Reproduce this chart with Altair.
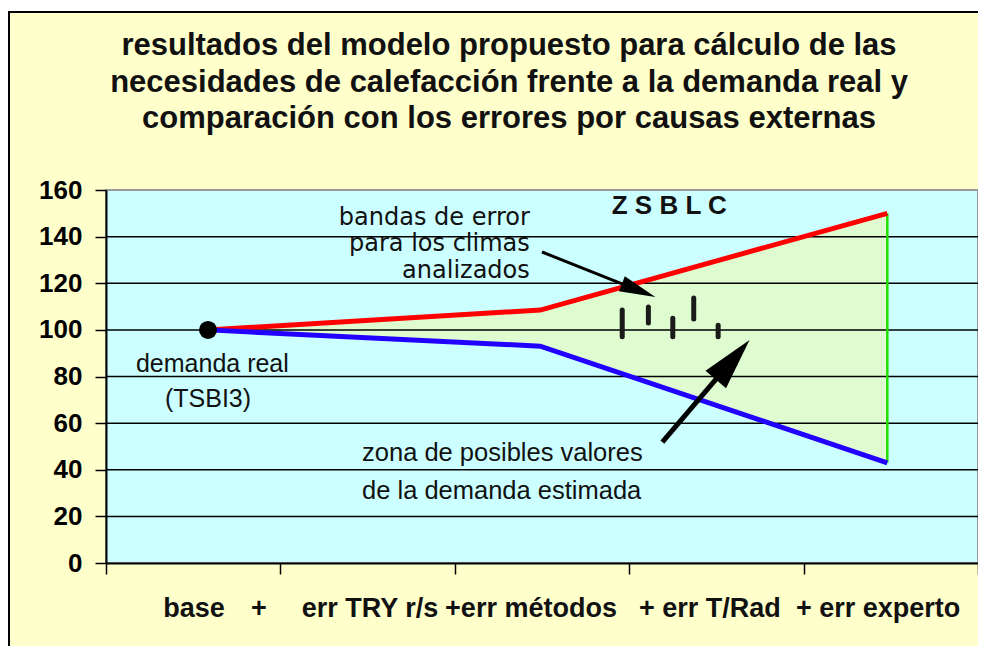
import math
import altair as alt
import pandas as pd

# ---------------- data ----------------
title_lines = [
    "resultados del modelo propuesto para cálculo de las",
    "necesidades de calefacción frente a la demanda real y",
    "comparación con los errores por causas externas",
]

y_ticks = [0, 20, 40, 60, 80, 100, 120, 140, 160]
x_ticks = [0, 1, 2, 3, 4, 5]

series_x = [0.585, 2.49, 4.48]
upper = [100, 108.5, 150]
lower = [100, 93, 43]

base_x = [0.585]
base_y = [100]

clim_names = ["Z", "S", "B", "L", "C"]
clim_x = [2.96, 3.11, 3.25, 3.37, 3.51]
clim_lo = [97, 103, 97, 104.7, 97]
clim_hi = [108.5, 109.8, 105, 113.7, 102]

x_labels = ["base", "+", "err TRY r/s", "+err métodos", "+ err T/Rad", "+ err experto"]
x_label_pos = [0.505, 0.877, 1.514, 2.437, 3.463, 4.427]

ann_text = ["bandas de error", "para los climas", "analizados", "Z S B L C",
            "zona de posibles valores", "de la demanda estimada",
            "demanda real", "(TSBI3)"]
ann_x = [2.43, 2.43, 2.43, 3.23, 1.468, 1.468, 0.61, 0.585]
ann_y = [148.0, 136.9, 125.3, 153.2, 47.0, 30.9, 85.4, 70.4]
ann_align = ["right", "right", "right", "center", "left", "left", "center", "center"]
ann_size = [24, 24, 24, 26, 25.5, 25.5, 25, 25]
ann_weight = ["normal", "normal", "normal", "bold", "normal", "normal", "normal", "normal"]
ann_font = ["dejavu", "dejavu", "dejavu", "lib", "lib", "lib", "lib", "lib"]

arrow_x0 = [2.50, 3.19]
arrow_y0 = [133.4, 51.9]
arrow_x1 = [3.15, 3.69]
arrow_y1 = [114.1, 95.7]
arrow_head_len = [36, 52]
arrow_head_half = [8, 13.5]
arrow_width = [3, 5]

# ---------------- layout ----------------
W, H = 872, 373
X_MAX, Y_MAX = 5, 160
FONT = "Liberation Sans, Arial, Helvetica, sans-serif"
FONTS = {"lib": FONT, "dejavu": "DejaVu Sans, Verdana, sans-serif"}
px_x = W / X_MAX
px_y = H / Y_MAX

xs = alt.Scale(domain=[0, X_MAX], nice=False, zero=False)
ys = alt.Scale(domain=[0, Y_MAX], nice=False, zero=False)

x_axis = alt.Axis(values=x_ticks, labels=False, grid=False, tickSize=11, tickColor="black",
                  tickWidth=1.5, domainColor="black", domainWidth=2, title=None, zindex=1)
y_axis = alt.Axis(values=y_ticks, grid=False, tickSize=11, tickColor="black", tickWidth=1.5,
                  domainColor="black", domainWidth=2, labelFont=FONT, labelFontSize=26,
                  labelFontWeight="bold", labelColor="black", labelPadding=13, title=None,
                  zindex=1)


def X(field):
    return alt.X(field, type="quantitative", scale=xs, axis=x_axis)


def Y(field):
    return alt.Y(field, type="quantitative", scale=ys, axis=y_axis)


one = pd.DataFrame({"a": [0]})

outer = alt.Chart(one).mark_rect(fill="#FFFFCC", stroke="black", strokeWidth=2).encode(
    x=alt.value(-97), x2=alt.value(W + 30), y=alt.value(-178), y2=alt.value(H + 120)
)
plotbg = alt.Chart(one).mark_rect(fill="#CCFFFF", stroke="#999999", strokeWidth=2).encode(
    x=alt.value(0), x2=alt.value(W), y=alt.value(0), y2=alt.value(H)
)

lines_df = pd.DataFrame({"x": series_x, "upper": upper, "lower": lower})

zone = alt.Chart(lines_df).mark_area(color="#DFFBD0", opacity=1).encode(
    x=X("x"), y=Y("upper"), y2="lower"
)

grid_df = pd.DataFrame({"v": y_ticks[1:-1]})
grid = alt.Chart(grid_df).mark_rule(color="black", strokeWidth=1.5).encode(y=Y("v"))

end_df = pd.DataFrame({"x": [series_x[-1]], "lo": [lower[-1]], "hi": [upper[-1]]})
end_rule = alt.Chart(end_df).mark_rule(color="#22DD00", strokeWidth=2.5).encode(
    x=X("x"), y=Y("lo"), y2="hi"
)

red = alt.Chart(lines_df).mark_line(color="#FF0000", strokeWidth=5).encode(x=X("x"), y=Y("upper"))
blue = alt.Chart(lines_df).mark_line(color="#2200FF", strokeWidth=5).encode(x=X("x"), y=Y("lower"))

clim_df = pd.DataFrame({"name": clim_names, "x": clim_x, "lo": clim_lo, "hi": clim_hi})
bars = alt.Chart(clim_df).mark_rule(color="#1a1a1a", strokeWidth=5, strokeCap="round").encode(
    x=X("x"), y=Y("lo"), y2="hi"
)

dot = alt.Chart(pd.DataFrame({"x": base_x, "y": base_y})).mark_point(
    filled=True, fill="black", color="black", opacity=1, size=324, shape="circle"
).encode(x=X("x"), y=Y("y"))

# arrows
rows = []
for i in range(len(arrow_x0)):
    dxp = (arrow_x1[i] - arrow_x0[i]) * px_x
    dyp = -(arrow_y1[i] - arrow_y0[i]) * px_y
    L = math.hypot(dxp, dyp)
    ux, uy = dxp / L, dyp / L
    back = 0.6 * arrow_head_len[i]
    ex = arrow_x1[i] - ux * back / px_x
    ey = arrow_y1[i] + uy * back / px_y
    ang = math.degrees(math.atan2(dxp, -dyp)) % 360
    hw = arrow_head_half[i] / (arrow_head_len[i] / 2)
    rows.append(dict(id=i, x0=arrow_x0[i], y0=arrow_y0[i], xe=ex, ye=ey,
                     x1=arrow_x1[i], y1=arrow_y1[i], ang=ang,
                     size=arrow_head_len[i] ** 2,
                     shape=f"M0,0L{hw:.3f},2L{-hw:.3f},2Z",
                     w=arrow_width[i]))
arr_df = pd.DataFrame(rows)

shafts = alt.Chart(arr_df).mark_rule(color="black").encode(
    x=X("x0"), y=Y("y0"), x2="xe", y2="ye",
    strokeWidth=alt.StrokeWidth("w:Q", scale=None, legend=None),
)
heads = alt.Chart(arr_df).mark_point(filled=True, fill="black", stroke=None, opacity=1).encode(
    x=X("x1"), y=Y("y1"),
    angle=alt.Angle("ang:Q", scale=None),
    size=alt.Size("size:Q", scale=None, legend=None),
    shape=alt.Shape("shape:N", scale=None, legend=None),
)

ann_df = pd.DataFrame({"t": ann_text, "x": ann_x, "y": ann_y, "al": ann_align,
                       "fs": ann_size, "fw": ann_weight, "ff": ann_font})
ann_layers = []
for al in ["left", "center", "right"]:
    for fw in ["normal", "bold"]:
        for ff in ["lib", "dejavu"]:
            sub = ann_df[(ann_df.al == al) & (ann_df.fw == fw) & (ann_df.ff == ff)]
            if len(sub) == 0:
                continue
            ann_layers.append(
                alt.Chart(sub).mark_text(align=al, baseline="middle", font=FONTS[ff],
                                         fontWeight=fw, color="#111111").encode(
                    x=X("x"), y=Y("y"), text="t:N",
                    size=alt.Size("fs:Q", scale=None, legend=None),
                )
            )

xl_df = pd.DataFrame({"t": x_labels, "x": x_label_pos})
xlab = alt.Chart(xl_df).mark_text(align="center", baseline="middle", font=FONT, fontSize=27,
                                  fontWeight="bold", color="#111111").encode(
    x=X("x"), y=alt.value(H + 46), text="t:N"
)

title = alt.Chart(one).mark_text(align="center", baseline="alphabetic", font=FONT, fontSize=31,
                                 fontWeight="bold", lineHeight=36.5, color="#111111").encode(
    x=alt.value(403), y=alt.value(-135), text=alt.value(title_lines)
)

chart = alt.layer(
    outer, plotbg, zone, grid, end_rule, red, blue, bars, dot, shafts, heads,
    *ann_layers, xlab, title
).properties(
    width=W, height=H,
    autosize=alt.AutoSizeParams(type="none"),
    padding={"left": 98, "top": 182, "right": 0, "bottom": 83},
).configure_view(strokeWidth=0).configure(background="white")

chart.save("out.html", embed_options={"renderer": "svg", "actions": False})
